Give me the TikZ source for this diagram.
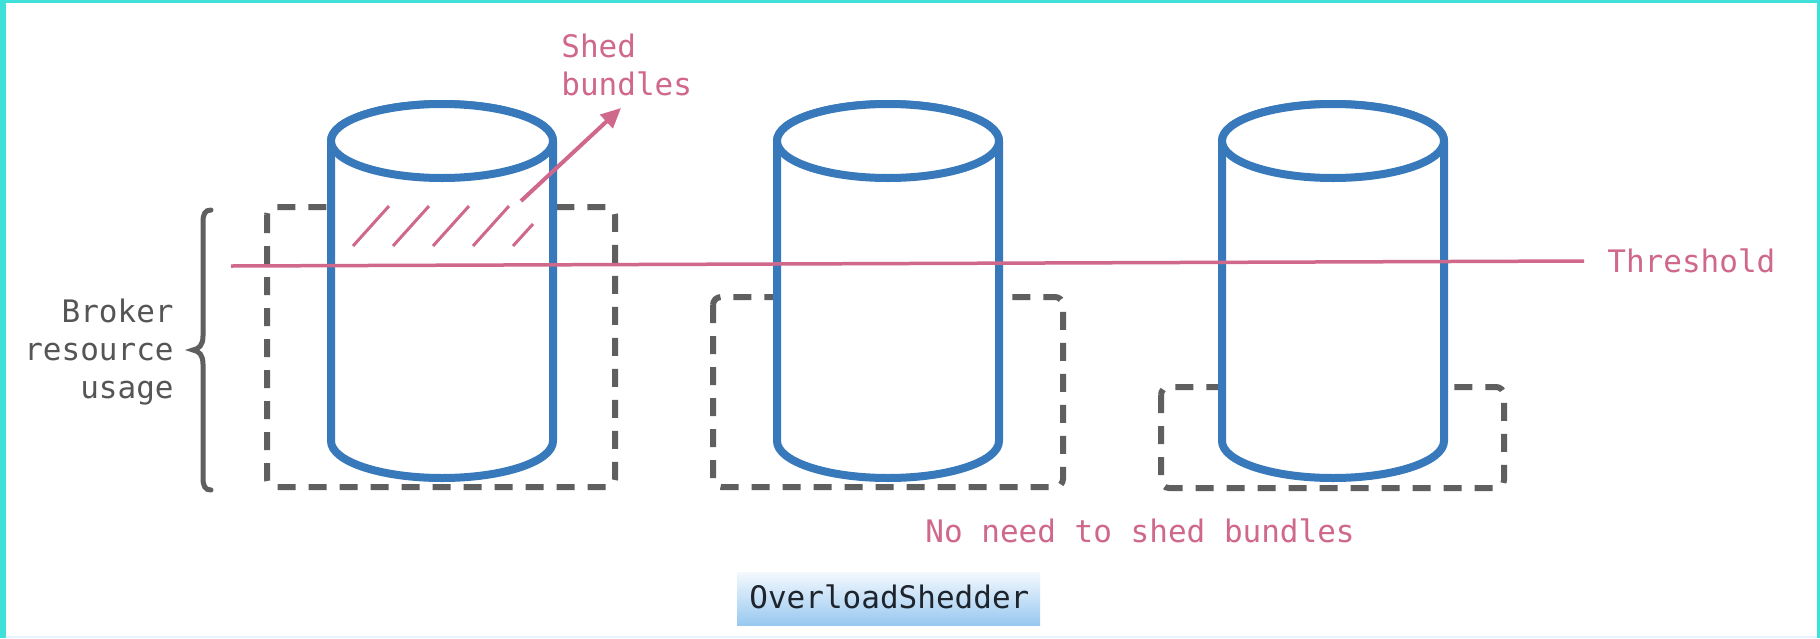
\documentclass[tikz,border=0pt]{standalone}
\usepackage{fontspec}
\newfontfamily\dmono{DejaVu Sans Mono}
\usetikzlibrary{arrows.meta}
\definecolor{cylblue}{RGB}{55,121,186}
\definecolor{rosy}{RGB}{207,104,138}
\definecolor{boxgray}{RGB}{95,95,95}
\definecolor{labelgray}{RGB}{85,85,85}
\definecolor{frameaqua}{RGB}{64,224,218}
\definecolor{paleband}{RGB}{234,244,252}
\definecolor{tagtop}{RGB}{244,249,254}
\definecolor{tagbot}{RGB}{152,200,240}
\definecolor{tagink}{RGB}{30,36,44}

\begin{document}
\begin{tikzpicture}[x=0.5pt,y=-0.5pt,
  txt/.style={inner sep=0pt, font=\dmono\fontsize{15.5}{19}\selectfont},
  loadbox/.style={draw=boxgray, line width=3pt, dash pattern=on 9pt off 6.5pt, rounded corners=4pt},
  cyl/.style={draw=cylblue, fill=white, line width=4pt, line join=round},
  hatchline/.style={draw=rosy, line width=1.5pt},
  thresh/.style={draw=rosy, line width=1.75pt},
  brace/.style={draw=boxgray, line width=2.5pt, line cap=round}]

% canvas and frame
\useasboundingbox (0,0) rectangle (1820,638);
\fill[white] (0,0) rectangle (1820,638);
\fill[frameaqua] (0,0) rectangle (6,638);
\fill[frameaqua] (0,0) rectangle (1820,3);
\fill[frameaqua] (1817,0) rectangle (1820,638);
\fill[paleband] (6,636) rectangle (1817,638);

% resource usage boxes
\draw[loadbox] (267,207) rectangle (615,487);
\draw[loadbox] (713,297) rectangle (1063,487);
\draw[loadbox] (1161,387) rectangle (1504,488);

% brokers
\foreach \cx in {442,888,1333}{
  \path[cyl] (\cx-111,141) -- (\cx-111,441)
     arc[start angle=180,end angle=360,x radius=55.5pt,y radius=18.5pt]
     -- (\cx+111,141)
     arc[start angle=0,end angle=180,x radius=55.5pt,y radius=18.5pt] -- cycle;
  \draw[cyl] (\cx,141) ellipse[x radius=55.5pt,y radius=18.5pt];
}

% load above the threshold
\foreach \hx in {353,393,433,473}{
  \draw[hatchline] (\hx,246) -- (\hx+36,206);
}
\draw[hatchline] (513,246) -- (533,224);

% threshold line
\coordinate (thl) at (231,266);
\coordinate (thr) at (1584,261);
\draw[thresh] (thl) -- (thr);
\node[txt, text=rosy, anchor=base west] (thlabel) at (1607,272) {Threshold};

% shedding arrow
\node[txt, text=rosy, anchor=base west, align=left] (shed) at (561,95) {Shed\\bundles};
\coordinate (arrS) at (521,201);
\coordinate (arrE) at (621,108);
\draw[rosy, line width=2pt, -{Triangle[length=10pt,width=9pt]}] (arrS) -- (arrE);

% brace and axis label
\draw[brace] (211,210) .. controls (205,210) and (203,214) .. (203,222)
  -- (203,336) .. controls (203,345) and (199,349) .. (193,350)
  .. controls (199,351) and (203,355) .. (203,364)
  -- (203,478) .. controls (203,486) and (205,490) .. (211,490);
\node[txt, text=labelgray, anchor=base east, align=right] (usage) at (174,398) {Broker\\resource\\usage};

% note
\node[txt, text=rosy, anchor=base west] (noneed) at (925,542) {No need to shed bundles};

% class tag
\shade[top color=tagtop, bottom color=tagbot] (737,572) rectangle (1040,625);
\node[txt, text=tagink, anchor=base west] (tag) at (749,608) {OverloadShedder};
\end{tikzpicture}
\end{document}
